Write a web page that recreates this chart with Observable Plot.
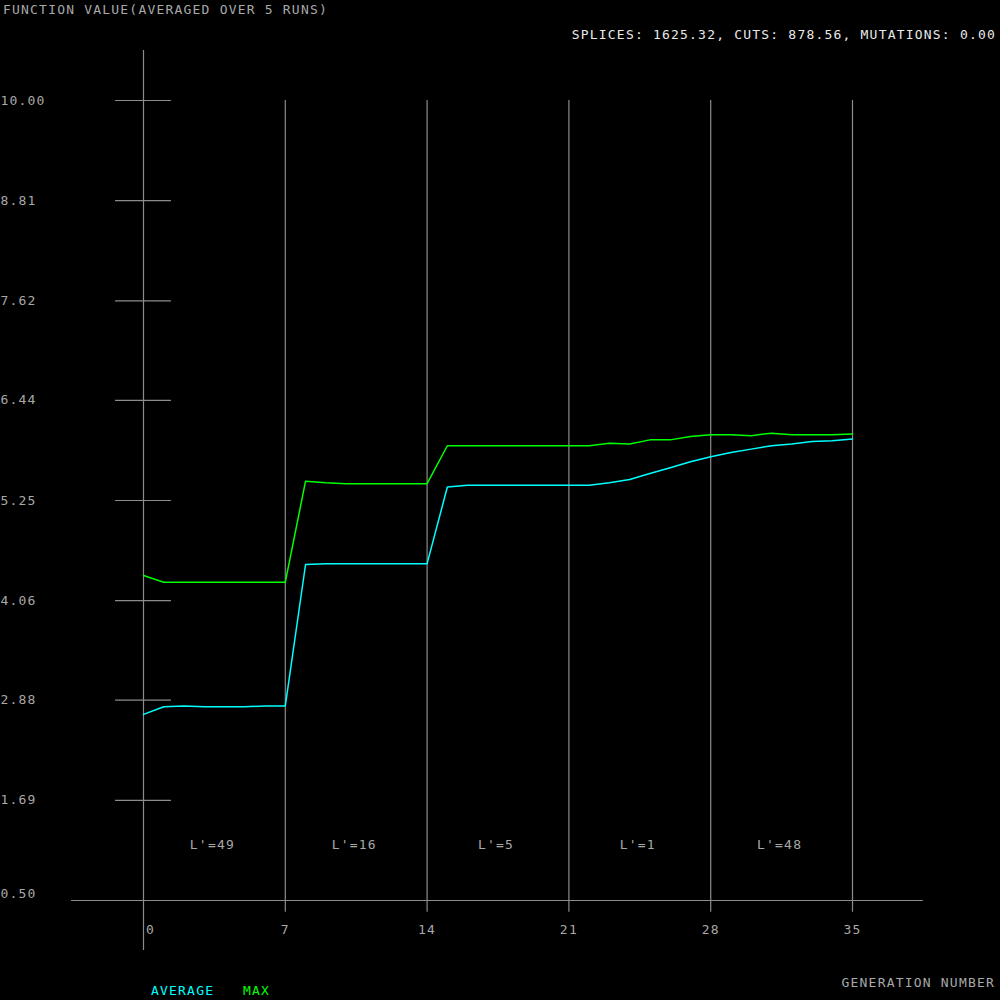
<!DOCTYPE html>
<html>
<head>
<meta charset="utf-8">
<script src="https://cdn.jsdelivr.net/npm/d3@7"></script>
<script src="https://cdn.jsdelivr.net/npm/@observablehq/plot@0.6"></script>
<style>
  html, body { margin: 0; padding: 0; background: #000; overflow: hidden; width: 1000px; height: 1000px; }
  #wrap { position: relative; width: 1000px; height: 1000px; }
  #chart { position: absolute; left: 0; top: 0; }
  .lbl { position: absolute; font-family: "DejaVu Sans Mono", monospace; font-size: 13px; letter-spacing: 1.2px; white-space: nowrap; line-height: 1; }
</style>
</head>
<body>
<div id="wrap">
  <div id="chart"></div>
  <div class="lbl" style="left:3px; top:3px; color:#a8a8a8;">FUNCTION VALUE(AVERAGED OVER 5 RUNS)</div>
  <div class="lbl" style="right:4px; top:28px; color:#e8e8e8;">SPLICES: 1625.32, CUTS: 878.56, MUTATIONS: 0.00</div>
  <div class="lbl" style="right:5px; top:976px; color:#a8a8a8;">GENERATION NUMBER</div>
  <div class="lbl" style="left:151px; top:984px; color:#00ffff;">AVERAGE</div>
  <div class="lbl" style="left:243px; top:984px; color:#00ff00;">MAX</div>
</div>
<script>
// ---- data ----
const generations = d3.range(0, 36);
const averageValues = [2.71, 2.80, 2.81, 2.80, 2.80, 2.80, 2.81, 2.81,
  4.49, 4.50, 4.50, 4.50, 4.50, 4.50, 4.50,
  5.41, 5.43, 5.43, 5.43, 5.43, 5.43, 5.43, 5.43,
  5.46, 5.50, 5.57, 5.64, 5.71, 5.77, 5.82, 5.86, 5.90, 5.92, 5.95, 5.96, 5.98];
const maxValues = [4.36, 4.28, 4.28, 4.28, 4.28, 4.28, 4.28, 4.28,
  5.48, 5.46, 5.45, 5.45, 5.45, 5.45, 5.45,
  5.90, 5.90, 5.90, 5.90, 5.90, 5.90, 5.90, 5.90,
  5.93, 5.92, 5.97, 5.97, 6.01, 6.03, 6.03, 6.02, 6.05, 6.03, 6.03, 6.03, 6.04];
const xTicks = [0, 7, 14, 21, 28, 35];
const yTicks = [10.00, 8.81, 7.62, 6.44, 5.25, 4.06, 2.88, 1.69, 0.50];
const yTickLabels = ["10.00", "8.81", "7.62", "6.44", "5.25", "4.06", "2.88", "1.69", "0.50"];
const segmentStarts = [0, 7, 14, 21, 28];
const segmentLabels = ["L'=49", "L'=16", "L'=5", "L'=1", "L'=48"];

const avgData = generations.map((g, i) => ({g, v: averageValues[i]}));
const maxData = generations.map((g, i) => ({g, v: maxValues[i]}));
const yLab = yTicks.map((v, i) => ({v, t: yTickLabels[i]}));
const segLab = segmentStarts.map((s, i) => ({x: s + 3.5, t: segmentLabels[i]}));

const grey = "#8c8c8c";
const textGrey = "#a8a8a8";
const font = "DejaVu Sans Mono, monospace";

const chart = Plot.plot({
  width: 1000,
  height: 1000,
  margin: 0,
  style: {background: "#000", fontFamily: font, fontSize: "13px", color: textGrey},
  x: {domain: [0, 35], range: [143, 852], axis: null},
  y: {domain: [0.5, 10], range: [900, 100], axis: null},
  marks: [
    Plot.ruleY([0.5], {x1: -3.55, x2: 38.5, stroke: grey, strokeWidth: 1.2}),
    Plot.ruleX(xTicks.filter(d => d !== 0), {y1: 0.36, y2: 10, stroke: grey, strokeWidth: 1.2}),
    Plot.ruleX([0], {y1: -0.094, y2: 10.594, stroke: grey, strokeWidth: 1.2}),
    Plot.ruleY(yTicks.filter(d => d !== 0.5), {x1: -1.38, x2: 1.38, stroke: grey, strokeWidth: 1.2}),
    Plot.text(yLab.filter(d => d.v !== 0.5), {y: "v", text: "t", frameAnchor: "left", textAnchor: "start", fill: textGrey, fontFamily: font, fontSize: 13}),
    Plot.text(yLab.filter(d => d.v === 0.5), {y: "v", text: "t", frameAnchor: "left", textAnchor: "start", dy: -7, fill: textGrey, fontFamily: font, fontSize: 13}),
    Plot.text(xTicks.filter(d => d !== 0), {x: d => d, y: () => 0.5, text: d => String(d), dy: 29, fill: textGrey, fontFamily: font, fontSize: 13}),
    Plot.text([0], {x: d => d, y: () => 0.5, text: d => String(d), dx: 7, dy: 29, fill: textGrey, fontFamily: font, fontSize: 13}),
    Plot.text(segLab, {x: "x", y: () => 0.5, text: "t", dx: -2, dy: -56, fill: textGrey, fontFamily: font, fontSize: 13}),
    Plot.line(maxData, {x: "g", y: "v", stroke: "#00ff00", strokeWidth: 1.5}),
    Plot.line(avgData, {x: "g", y: "v", stroke: "#00ffff", strokeWidth: 1.5})
  ]
});
chart.querySelectorAll("text").forEach(t => t.setAttribute("letter-spacing", "1.2"));
document.getElementById("chart").appendChild(chart);
</script>
</body>
</html>
